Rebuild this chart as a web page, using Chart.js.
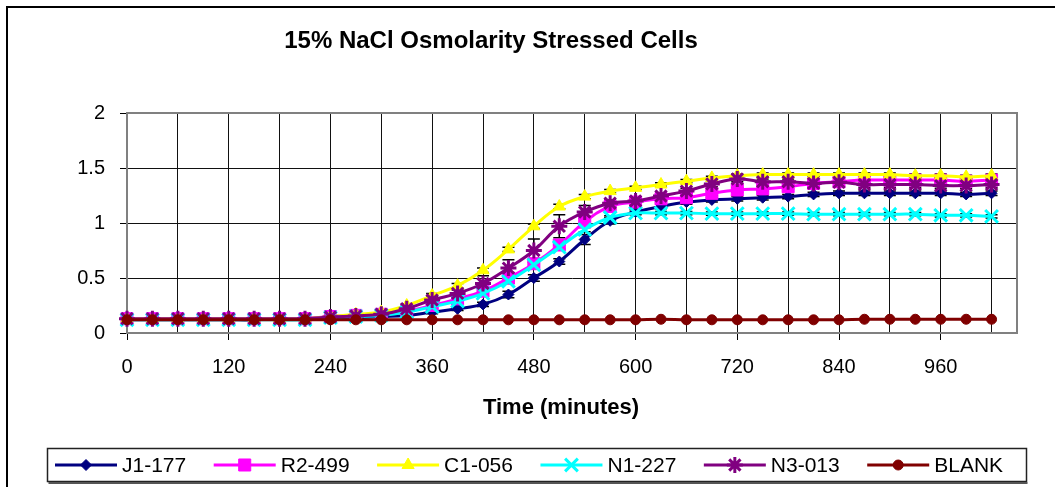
<!DOCTYPE html>
<html>
<head>
<meta charset="utf-8">
<title>15% NaCl Osmolarity Stressed Cells</title>
<script src="https://cdn.jsdelivr.net/npm/chart.js@4.4.1/dist/chart.umd.min.js"></script>
<style>
  html, body { margin: 0; padding: 0; background: #fff; }
  canvas { display: block; }
</style>
</head>
<body>
<canvas id="growthChart" width="1055" height="487"></canvas>
<script>
// Readings every 30 minutes
const minutes = [0, 30, 60, 90, 120, 150, 180, 210, 240, 270, 300, 330, 360, 390, 420, 450, 480, 510, 540, 570,
                 600, 630, 660, 690, 720, 750, 780, 810, 840, 870, 900, 930, 960, 990, 1020];

const seriesNames = ['J1-177', 'R2-499', 'C1-056', 'N1-227', 'N3-013', 'BLANK'];

const j1_177 = [0.12, 0.12, 0.12, 0.12, 0.12, 0.12, 0.13, 0.13, 0.14, 0.14, 0.15, 0.16, 0.19, 0.22, 0.26, 0.35, 0.50, 0.65, 0.85, 1.02,
                1.10, 1.15, 1.19, 1.21, 1.22, 1.23, 1.24, 1.26, 1.27, 1.27, 1.27, 1.27, 1.27, 1.26, 1.27];
const r2_499 = [0.13, 0.13, 0.13, 0.13, 0.13, 0.13, 0.13, 0.13, 0.15, 0.16, 0.17, 0.20, 0.25, 0.31, 0.38, 0.50, 0.63, 0.80, 1.01, 1.15,
                1.19, 1.22, 1.23, 1.27, 1.30, 1.31, 1.33, 1.36, 1.375, 1.39, 1.39, 1.39, 1.39, 1.38, 1.39];
const c1_056 = [0.13, 0.13, 0.13, 0.13, 0.13, 0.13, 0.13, 0.13, 0.15, 0.17, 0.19, 0.25, 0.34, 0.43, 0.57, 0.76, 0.97, 1.15, 1.24, 1.29,
                1.32, 1.35, 1.38, 1.41, 1.43, 1.44, 1.44, 1.44, 1.44, 1.44, 1.44, 1.43, 1.43, 1.42, 1.43];
const n1_227 = [0.12, 0.12, 0.12, 0.12, 0.12, 0.12, 0.12, 0.12, 0.14, 0.15, 0.16, 0.19, 0.24, 0.29, 0.36, 0.47, 0.62, 0.78, 0.94, 1.05,
                1.09, 1.09, 1.09, 1.085, 1.085, 1.085, 1.085, 1.08, 1.08, 1.08, 1.08, 1.08, 1.07, 1.07, 1.06];
const n3_013 = [0.13, 0.13, 0.13, 0.13, 0.13, 0.13, 0.13, 0.13, 0.145, 0.155, 0.17, 0.22, 0.30, 0.36, 0.45, 0.59, 0.75, 0.97, 1.10, 1.18,
                1.20, 1.245, 1.29, 1.355, 1.40, 1.375, 1.375, 1.36, 1.37, 1.35, 1.35, 1.35, 1.34, 1.34, 1.35];
const blank  = [0.12, 0.12, 0.12, 0.12, 0.12, 0.12, 0.12, 0.12, 0.12, 0.12, 0.12, 0.12, 0.12, 0.12, 0.12, 0.12, 0.12, 0.12, 0.12, 0.12,
                0.12, 0.125, 0.12, 0.12, 0.12, 0.12, 0.12, 0.12, 0.12, 0.125, 0.125, 0.125, 0.125, 0.125, 0.125];

// Standard deviations (drawn as black error bars)
const j1Err = [0.01, 0.01, 0.01, 0.01, 0.01, 0.01, 0.01, 0.01, 0.01, 0.01, 0.01, 0.015, 0.015, 0.015, 0.02, 0.03, 0.03, 0.025, 0.045, 0.03,
               0.02, 0.02, 0.02, 0.02, 0.02, 0.02, 0.02, 0.02, 0.02, 0.02, 0.02, 0.02, 0.02, 0.02, 0.02];
const r2Err = [0.01, 0.01, 0.01, 0.01, 0.01, 0.01, 0.01, 0.01, 0.01, 0.01, 0.01, 0.015, 0.02, 0.02, 0.02, 0.02, 0.03, 0.03, 0.03, 0.025,
               0.025, 0.02, 0.02, 0.02, 0.02, 0.02, 0.02, 0.02, 0.02, 0.02, 0.02, 0.02, 0.02, 0.02, 0.02];
const c1Err = [0.01, 0.01, 0.01, 0.01, 0.01, 0.01, 0.01, 0.01, 0.01, 0.01, 0.01, 0.015, 0.02, 0.02, 0.02, 0.02, 0.02, 0.02, 0.02, 0.015,
               0.015, 0.015, 0.015, 0.015, 0.015, 0.015, 0.015, 0.015, 0.015, 0.015, 0.015, 0.015, 0.015, 0.015, 0.015];
const n1Err = [0.01, 0.01, 0.01, 0.01, 0.01, 0.01, 0.01, 0.01, 0.01, 0.01, 0.01, 0.015, 0.02, 0.02, 0.02, 0.02, 0.02, 0.02, 0.02, 0.015,
               0.015, 0.015, 0.015, 0.015, 0.015, 0.015, 0.015, 0.015, 0.015, 0.015, 0.015, 0.015, 0.015, 0.015, 0.015];
const n3Err = [0.01, 0.01, 0.01, 0.01, 0.01, 0.01, 0.01, 0.01, 0.01, 0.01, 0.01, 0.02, 0.03, 0.03, 0.07, 0.075, 0.105, 0.105, 0.06, 0.03,
               0.025, 0.025, 0.025, 0.025, 0.025, 0.025, 0.025, 0.025, 0.025, 0.025, 0.025, 0.025, 0.025, 0.025, 0.025];

const FONT = "'Liberation Sans', Arial, sans-serif";

// Build one line dataset (points are {x: minutes, y: OD})
function makeSeries(name, values, errors, color, style, radius, borderWidth, order) {
    return {
        label: name,
        data: values.map((v, i) => ({ x: minutes[i], y: v })),
        errors: errors,
        borderColor: color,
        backgroundColor: color,
        borderWidth: 3,
        tension: 0.4,
        pointStyle: style,
        pointRadius: radius,
        pointHoverRadius: radius,
        pointBackgroundColor: color,
        pointBorderColor: color,
        pointBorderWidth: borderWidth,
        clip: false,
        order: order
    };
}

const datasets = [
    makeSeries(seriesNames[0], j1_177, j1Err, '#000080', 'rectRot', 5.5, 1, 5),
    makeSeries(seriesNames[1], r2_499, r2Err, '#FF00FF', 'rect', 8.5, 1, 4),
    makeSeries(seriesNames[2], c1_056, c1Err, '#FFFF00', 'triangle', 7, 1, 3),
    makeSeries(seriesNames[3], n1_227, n1Err, '#00FFFF', 'crossRot', 9, 3, 2),
    makeSeries(seriesNames[4], n3_013, n3Err, '#800080', 'star', 8, 3, 1),
    makeSeries(seriesNames[5], blank, null, '#800000', 'circle', 5, 1, 0)
];

// Frame, error bars, titles and the boxed legend
const decorPlugin = {
    id: 'decor',
    beforeDraw(chart) {
        const ctx = chart.ctx;
        ctx.save();
        ctx.fillStyle = '#fff';
        ctx.fillRect(0, 0, chart.width, chart.height);
        ctx.strokeStyle = '#000';
        ctx.lineWidth = 2;
        ctx.strokeRect(7, 7, chart.width + 20, chart.height + 20);
        ctx.restore();
    },
    beforeDatasetsDraw(chart) {
        const ctx = chart.ctx;
        const ys = chart.scales.y;
        const area = chart.chartArea;
        ctx.save();
        // plot area frame
        ctx.strokeStyle = '#808080';
        ctx.lineWidth = 2;
        ctx.strokeRect(area.left, area.top, area.right - area.left, area.bottom - area.top);
        // error bars
        ctx.strokeStyle = '#000';
        ctx.lineWidth = 1.5;
        chart.data.datasets.forEach((ds, i) => {
            if (!ds.errors) return;
            const meta = chart.getDatasetMeta(i);
            meta.data.forEach((pt, j) => {
                const v = ds.data[j].y;
                const e = ds.errors[j];
                const yTop = ys.getPixelForValue(v + e);
                const yBot = ys.getPixelForValue(v - e);
                ctx.beginPath();
                ctx.moveTo(pt.x, yTop);
                ctx.lineTo(pt.x, yBot);
                ctx.moveTo(pt.x - 6, yTop);
                ctx.lineTo(pt.x + 6, yTop);
                ctx.moveTo(pt.x - 6, yBot);
                ctx.lineTo(pt.x + 6, yBot);
                ctx.stroke();
            });
        });
        ctx.restore();
    },
    afterDraw(chart) {
        const ctx = chart.ctx;
        ctx.save();
        ctx.fillStyle = '#000';
        ctx.textAlign = 'center';
        ctx.textBaseline = 'middle';
        ctx.font = 'bold 24px ' + FONT;
        ctx.fillText('15% NaCl Osmolarity Stressed Cells', 491, 41);
        ctx.font = 'bold 22px ' + FONT;
        ctx.fillText('Time (minutes)', 561, 408);

        // legend box
        const box = { left: 47.5, top: 448.5, right: 1026.5, bottom: 481.5 };
        ctx.strokeStyle = '#222';
        ctx.lineWidth = 1.5;
        ctx.strokeRect(box.left, box.top, box.right - box.left, box.bottom - box.top);
        ctx.strokeStyle = '#555';
        ctx.lineWidth = 2;
        ctx.beginPath();
        ctx.moveTo(box.left + 1, box.bottom + 1.5);
        ctx.lineTo(box.right + 1, box.bottom + 1.5);
        ctx.stroke();

        const cy = 465;
        let x = 55;
        ctx.font = '21px ' + FONT;
        ctx.textAlign = 'left';
        chart.data.datasets.forEach(ds => {
            ctx.strokeStyle = ds.borderColor;
            ctx.fillStyle = ds.borderColor;
            ctx.lineWidth = 3;
            ctx.beginPath();
            ctx.moveTo(x, cy);
            ctx.lineTo(x + 62, cy);
            ctx.stroke();
            if (Chart.helpers && Chart.helpers.drawPoint) {
                ctx.lineWidth = ds.pointBorderWidth;
                Chart.helpers.drawPoint(ctx, {
                    pointStyle: ds.pointStyle,
                    rotation: 0,
                    radius: ds.pointRadius,
                    borderWidth: ds.pointBorderWidth
                }, x + 31, cy);
            }
            ctx.fillStyle = '#000';
            ctx.fillText(ds.label, x + 67, cy + 1);
            x += 62 + 5 + ctx.measureText(ds.label).width + 27.5;
        });
        ctx.restore();
    }
};

new Chart(document.getElementById('growthChart'), {
    type: 'line',
    data: { datasets: datasets },
    options: {
        responsive: false,
        animation: false,
        events: [],
        layout: { padding: { top: 113, right: 38, bottom: 114, left: 0 } },
        plugins: {
            legend: { display: false },
            title: { display: false },
            tooltip: { enabled: false }
        },
        scales: {
            x: {
                type: 'linear',
                min: 0,
                max: 1050,
                ticks: {
                    stepSize: 60,
                    includeBounds: false,
                    autoSkip: false,
                    maxRotation: 0,
                    padding: 15,
                    color: '#000',
                    font: { family: FONT, size: 20 },
                    callback: v => (v % 120 === 0 ? String(v) : '')
                },
                grid: {
                    color: '#111',
                    lineWidth: 1,
                    tickLength: 7,
                    tickColor: c => (c.tick && c.tick.value % 120 === 0 ? '#000' : 'rgba(0,0,0,0)')
                },
                border: { color: '#808080', width: 2 },
                afterFit: s => { s.height = 40; }
            },
            y: {
                min: 0,
                max: 2,
                ticks: {
                    stepSize: 0.5,
                    padding: 15,
                    color: '#000',
                    font: { family: FONT, size: 20 },
                    callback: v => String(v)
                },
                grid: { color: '#111', lineWidth: 1, tickLength: 7, tickColor: '#000' },
                border: { color: '#808080', width: 2 },
                afterFit: s => { s.width = 127; }
            }
        }
    },
    plugins: [decorPlugin]
});
</script>
</body>
</html>
